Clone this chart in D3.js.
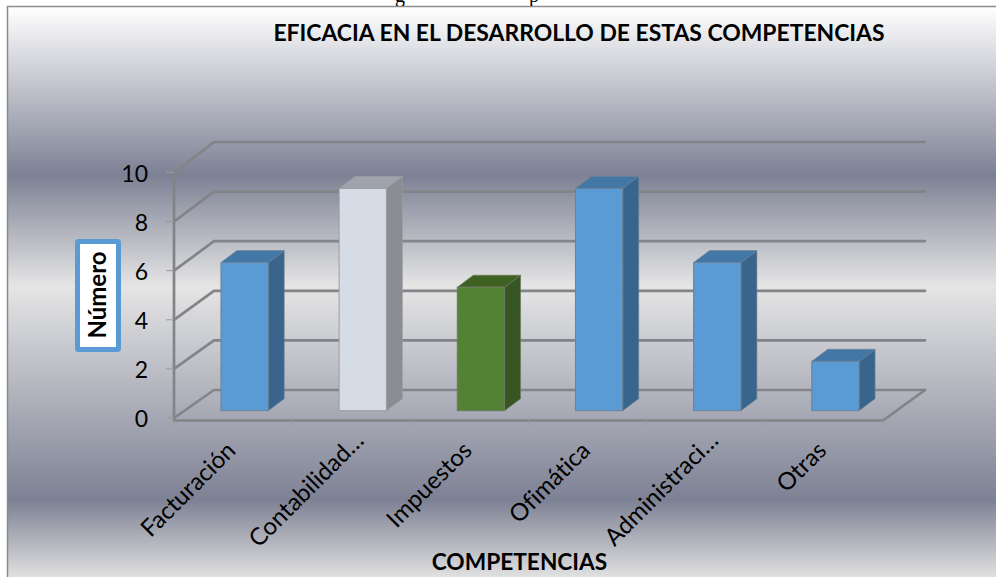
<!DOCTYPE html>
<html><head><meta charset="utf-8">
<script src="https://cdn.jsdelivr.net/npm/d3@7"></script>
<style>html,body{margin:0;padding:0;background:#fff}svg{display:block}text{font-family:Lato,"Open Sans",sans-serif;fill:#000;font-variant-ligatures:none}</style>
</head><body><svg id="c" width="996" height="577"></svg>
<script>
const categories=["Facturación","Contabilidad…","Impuestos","Ofimática","Administraci…","Otras"];
const values=[6,9,5,9,6,2];
const yTicks=[0,2,4,6,8,10];
const chartTitle="EFICACIA EN EL DESARROLLO DE ESTAS COMPETENCIAS";
const yTitle="Número";
const xTitle="COMPETENCIAS";
const blueFace={front:"#5b9bd5",side:"#39658c",top:"#4377a6",edge:"#6d8296"};
const barFaces=[
 blueFace,
 {front:"#d6dce5",side:"#8a8d92",top:"#a0a3ab",edge:"#9a9da3"},
 {front:"#548235",side:"#375623",top:"#3f6122",edge:"#6b7a60"},
 blueFace,blueFace,blueFace];

const svg=d3.select("#c");
const defs=svg.append("defs");
const g=defs.append("linearGradient").attr("id","bg").attr("x1",0).attr("y1",0).attr("x2",0).attr("y2",1);
[[0,"#ffffff"],[0.295,"#7d8194"],[0.49,"#e5e5e5"],[0.865,"#7d8194"],[1,"#e0e0e0"]].forEach(s=>g.append("stop").attr("offset",s[0]).attr("stop-color",s[1]));
svg.append("rect").attr("x",8).attr("y",7).attr("width",988).attr("height",570).attr("fill","url(#bg)");
svg.append("path").attr("d","M7.5,577V6.5H996").attr("fill","none").attr("stroke","#8c8c8c").attr("stroke-width",1.5);

// clipped descenders of the caption line above the chart frame
const cap=svg.append("g").attr("clip-path","url(#capClip)");
defs.append("clipPath").attr("id","capClip").append("rect").attr("width",996).attr("height",6);
cap.append("text").attr("x",400).attr("y",2).attr("text-anchor","middle").style("font-family","Liberation Serif").style("font-size","20px").text("g");
cap.append("text").attr("x",534).attr("y",2).attr("text-anchor","middle").style("font-family","Liberation Serif").style("font-size","20px").text("p");

const x=d3.scaleBand().domain(categories).range([174,883]);
const yFront=d3.scaleLinear().domain([0,10]).range([418,172.5]);
const yBack=d3.scaleLinear().domain([0,10]).range([390,142]);
const yBar=d3.scaleLinear().domain([0,10]).range([410.7,163.7]);
const backX0=214,backX1=925,floorY=420.5;
const grid="#838488";

// walls
const walls=svg.append("g").attr("fill","none").attr("stroke",grid).attr("stroke-width",2.7).attr("stroke-linejoin","round").attr("stroke-linecap","round");
yTicks.forEach(t=>{
  walls.append("path").attr("d",`M174,${yFront(t)}L${backX0},${yBack(t)}H${backX1}`);
  svg.append("line").attr("x1",166).attr("x2",174).attr("y1",yFront(t)).attr("y2",yFront(t)).attr("stroke","#9a9a9a").attr("stroke-width",1);
});
walls.append("path").attr("d",`M174,${yFront(10)}V${floorY}H883L${backX1},${yBack(0)}`);
d3.range(7).forEach(i=>{
  const px=174+i*x.step();
  svg.append("line").attr("x1",px).attr("x2",px).attr("y1",floorY).attr("y2",floorY+5).attr("stroke","#9a9a9a").attr("stroke-width",1);
});

// bars
const bw=x.step()*0.4,dx=16,dy=12,shift=11.5;
const bars=svg.append("g").selectAll("g").data(values).join("g");
bars.each(function(v,i){
  const b=d3.select(this),f=barFaces[i];
  const l=x(categories[i])+x.bandwidth()/2+shift-bw/2,r=l+bw,t=yBar(v),o=yBar(0);
  b.append("path").attr("d",`M${r},${t}l${dx},${-dy}V${o-dy}l${-dx},${dy}Z`).attr("fill",f.side).attr("stroke",f.edge).attr("stroke-width",.6);
  b.append("path").attr("d",`M${l},${t}l${dx},${-dy}H${r+dx}l${-dx},${dy}Z`).attr("fill",f.top).attr("stroke",f.edge).attr("stroke-width",.6);
  b.append("rect").attr("x",l).attr("y",t).attr("width",bw).attr("height",o-t).attr("fill",f.front).attr("stroke",f.edge).attr("stroke-width",1);
});

// text
svg.append("text").attr("x",579).attr("y",41).attr("text-anchor","middle").style("font-size","22.9px").style("font-weight",700).text(chartTitle);
svg.selectAll(".yl").data(yTicks).join("text").attr("class","yl").attr("x",148).attr("y",d=>yFront(d)+9).attr("text-anchor","end").style("font-size","23px").text(d=>d);
svg.selectAll(".xl").data(categories).join("text").attr("class","xl").attr("text-anchor","end").style("font-size","24px")
  .attr("transform",d=>`translate(${x(d)+x.bandwidth()/2+4},${452}) rotate(-45)`)
  .attr("dx",d=>d.endsWith("…")?14:0).text(d=>d);
svg.append("rect").attr("x",77.5).attr("y",241.5).attr("width",41).attr("height",108).attr("rx",1).attr("fill","#fff").attr("stroke","#5b9bd5").attr("stroke-width",5);
svg.append("text").attr("transform","translate(106,295) rotate(-90)").attr("text-anchor","middle").style("font-size","24px").style("font-weight",700).text(yTitle);
svg.append("text").attr("x",519.5).attr("y",570).attr("text-anchor","middle").style("font-size","22.7px").style("font-weight",700).text(xTitle);
</script></body></html>
